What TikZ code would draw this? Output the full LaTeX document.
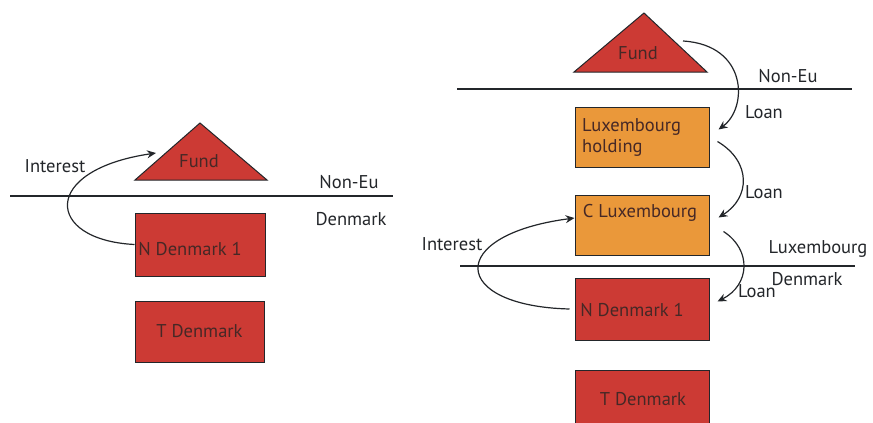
\documentclass[tikz,border=0pt]{standalone}
\usepackage{fontspec}
\setmainfont{PT Sans}
\usetikzlibrary{arrows.meta,calc}
\definecolor{boxred}{RGB}{204,58,52}
\definecolor{boxorange}{RGB}{234,152,58}
\definecolor{inktext}{RGB}{70,40,38}
\definecolor{ink}{RGB}{35,38,42}
\tikzset{
  redbox/.style={draw=ink, line width=1pt, fill=boxred, minimum width=#1, inner sep=0pt, font=\fontsize{18.5}{21}\selectfont, text=inktext},
  orangebox/.style={draw=ink, line width=1pt, fill=boxorange, minimum width=134pt, minimum height=60pt, inner sep=0pt, font=\fontsize{18.5}{21}\selectfont, text=inktext},
  tri/.style={draw=ink, line width=1pt, fill=boxred},
  lbl/.style={font=\fontsize{18.5}{21}\selectfont, text=ink, inner sep=0pt},
  divider/.style={draw=ink, line width=1.3pt},
  flow/.style={draw=ink, line width=1.2pt, -{Stealth[length=9pt,width=8pt,inset=3pt]}},
}
\begin{document}
\begin{tikzpicture}[x=1pt,y=-1pt]
\useasboundingbox (0,0) rectangle (873,423);
\clip (0,0) rectangle (873,423);
% ---------- left diagram ----------
\path[tri] (135,180) -- (200,123) -- (267,180) -- cycle;
\node[lbl, text=inktext] (fundL) at (199,161) {Fund};
\draw[divider] (10,196) -- (393,196);
\node[lbl] (noneuL) at (349,182) {Non-Eu};
\node[lbl] (dkL) at (351,219) {Denmark};
\node[redbox=130pt, minimum height=63pt] (nd1L) at (200,244.5) {};
\node[lbl, text=inktext] (nd1Ltext) at (190,249) {N Denmark 1};
\node[redbox=129pt, minimum height=61pt] (tdL) at (199.5,331.5) {T Denmark};
\coordinate (intLstart) at (nd1L.west);
\coordinate (intLend) at (156,153);
\draw[flow] (intLstart) .. controls (45,240) and (40,170) .. (intLend);
\node[lbl] (intL) at (55,166) {Interest};
% ---------- right diagram ----------
\path[tri] (574,72) -- (644,13) -- (707,72) -- cycle;
\node[lbl, text=inktext] (fundR) at (638,53) {Fund};
\draw[divider] (457,89) -- (852,89);
\node[lbl] (noneuR) at (788,76) {Non-Eu};
\node[orangebox] (lh) at (642,137) {};
\node[lbl, text=inktext, align=left, anchor=west] (lhtext) at (582,137) {Luxembourg\\holding};
\node[orangebox] (cl) at (642,225) {};
\node[lbl, text=inktext] (cltext) at (640,213) {C Luxembourg};
\draw[divider] (460,266) -- (855,266);
\node[lbl] (luxlbl) at (818,249) {Luxembourg};
\node[lbl] (dklbl) at (807,279) {Denmark};
\node[redbox=134pt, minimum height=62pt] (nd1R) at (642,309) {};
\node[lbl, text=inktext] (nd1Rtext) at (632,310) {N Denmark 1};
\node[redbox=134pt, minimum height=70pt] (tdR) at (642,405) {};
\node[lbl, text=inktext] (tdRtext) at (643,399) {T Denmark};
% loans
\coordinate (l1s) at (683,41);
\coordinate (l1e) at ($(lh.north east)+(9,23)$);
\draw[flow] (l1s) .. controls (748,45) and (748,108) .. (l1e);
\node[lbl] (loan1) at (764,112) {Loan};
\coordinate (l2s) at ($(lh.north east)+(8,35)$);
\coordinate (l2e) at ($(cl.north east)+(9,23)$);
\draw[flow] (l2s) .. controls (752,162) and (750,198) .. (l2e);
\node[lbl] (loan2) at (764,192) {Loan};
\coordinate (l3s) at ($(cl.north east)+(14,37)$);
\coordinate (l3e) at ($(nd1R.north east)+(8,24)$);
\draw[flow] (l3s) .. controls (752,250) and (750,285) .. (l3e);
\node[lbl] (loan3) at (757,291) {Loan};
% interest
\coordinate (iRs) at ($(nd1R.west)+(-5,0)$);
\coordinate (iRe) at ($(cl.west)+(0,-7)$);
\draw[flow] (iRs) .. controls (450,306) and (445,235) .. (iRe);
\node[lbl] (intR) at (452,244) {Interest};
\end{tikzpicture}
\end{document}
